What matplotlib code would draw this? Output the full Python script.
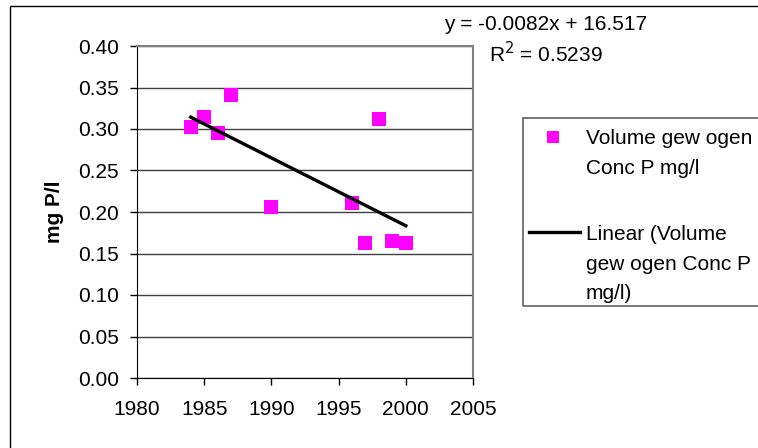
import numpy as np
import matplotlib.pyplot as plt
from matplotlib.patches import Rectangle
from matplotlib.lines import Line2D

plt.rcParams['font.family'] = ['Liberation Sans', 'DejaVu Sans']

years = [1984, 1985, 1986, 1987, 1990, 1996, 1997, 1998, 1999, 2000]
conc = [0.302, 0.314, 0.295, 0.341, 0.206, 0.211, 0.163, 0.312, 0.165, 0.163]
xticks = [1980, 1985, 1990, 1995, 2000, 2005]
yticks = [0.00, 0.05, 0.10, 0.15, 0.20, 0.25, 0.30, 0.35, 0.40]
leg_scatter = ['Volume gew ogen', 'Conc P mg/l']
leg_line = ['Linear (Volume', 'gew ogen Conc P', 'mg/l)']

fs = 15
W, H = 758, 448

def fx(px):
    return px / W

def fy(py):
    return 1 - py / H

fig = plt.figure(figsize=(W/100, H/100), dpi=100)
ax = fig.add_axes([fx(137), fy(378), (473-137)/W, (378-46)/H])

# outer chart frame
fig.add_artist(Rectangle((fx(10), -0.1), 1.2, fy(6)+0.1, transform=fig.transFigure,
                         fill=False, ec='black', lw=1.0))

ax.scatter(years, conc, marker='s', s=95, color='#FF00FF', linewidths=0, zorder=3)

slope, icpt = np.polyfit(years, conc, 1)
xl = np.array([min(years), max(years)])
ax.plot(xl, slope*xl + icpt, color='black', lw=2.4, zorder=4)

ax.set_xlim(1980, 2005)
ax.set_ylim(0, 0.40)
ax.set_xticks(xticks)
ax.set_yticks(yticks)
ax.set_yticklabels(['%.2f' % v for v in yticks])
ax.tick_params(labelsize=fs, length=5, width=1, colors='black')
ax.tick_params(axis='y', pad=8)
ax.tick_params(axis='x', pad=11)
ax.yaxis.grid(True, color='#404040', lw=1)
ax.set_axisbelow(True)
for s in ['top', 'right']:
    ax.spines[s].set_color('#808080')
    ax.spines[s].set_linewidth(1.5)
for s in ['left', 'bottom']:
    ax.spines[s].set_color('black')
ax.set_ylabel('mg P/l', fontsize=fs, fontweight='bold', labelpad=10)

# legend box, drawn by hand to follow the original spacing
fig.add_artist(Rectangle((fx(523), fy(306)), 1.0, (306-118)/H, transform=fig.transFigure,
                         fill=False, ec='#606060', lw=1.2))
fig.add_artist(Line2D([fx(553)], [fy(137)], marker='s', ms=8.5, color='#FF00FF',
                      mew=0, transform=fig.transFigure))
fig.add_artist(Line2D([fx(529), fx(580)], [fy(232), fy(232)], color='black', lw=2.4,
                      transform=fig.transFigure))
for i, s in enumerate(leg_scatter):
    fig.text(fx(586), fy(144 + 30*i), s, ha='left', va='baseline', fontsize=fs)
for i, s in enumerate(leg_line):
    fig.text(fx(586), fy(240 + 29.5*i), s, ha='left', va='baseline', fontsize=fs)

fig.text(fx(546), fy(25), 'y = -0.0082x + 16.517', ha='center', va='center', fontsize=fs)
fig.text(fx(546), fy(54), 'R$^2$ = 0.5239', ha='center', va='center', fontsize=fs)

fig.savefig('out.png', dpi=100)
